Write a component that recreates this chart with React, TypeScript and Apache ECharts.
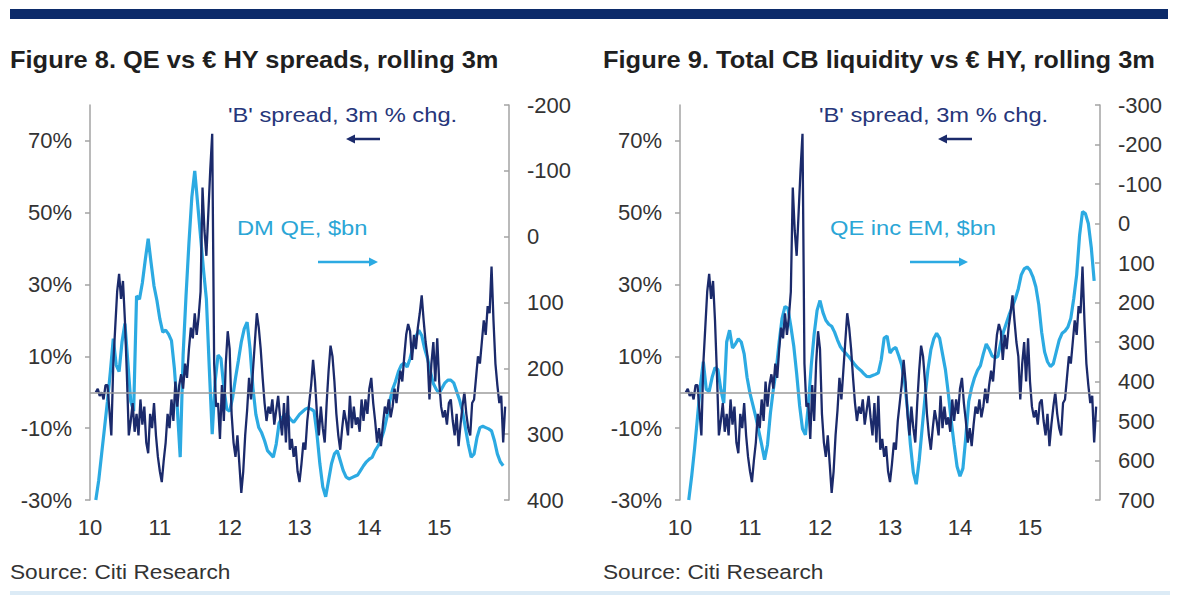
import React, { useEffect, useRef } from "react";
import * as echarts from "echarts";

// 'B' spread, 3m % change: three readings per month from Feb 2010
const SPREAD_START = 2010 + 1 / 12;
const SPREAD_STEP = 1 / 36;
const spreadChg = [
  0, 1, -1, 0, -2, 2, 2, -5, -12, 8, 18, 28,
  33, 26, 31, 20, 5, -12, -8, -3, -11, -6, -12, -2,
  -9, -4, -14, -17, -6, -10, -3, -12, -18, -22, -25, -19,
  -14, -6, -10, -2, -8, 3, -4, 2, 5, 1, 8, 4,
  12, 18, 15, 22, 16, 21, 28, 57, 45, 38, 50, 62,
  72, 8, -4, -3, -13, 2, -8, 8, 17, 12, -6, -14,
  -18, -12, -20, -28, -22, -12, -5, 4, -2, 6, 14, 22,
  18, 12, 4, -3, -8, -4, -6, -2, -9, -5, -1, -7,
  -12, -3, -14, -1, -16, -13, -18, -15, -22, -25, -20, -14,
  -16, -8, -3, 2, 9, 3, -6, -12, -4, -10, -14, -3,
  6, 13, 10, 3, -6, -12, -16, -10, -5, -8, -12, -1,
  -10, -4, -9, -7, -11, -2, -8, -2, -6, 1, 4, -3,
  -8, -14, -10, -15, -9, -4, -6, -2, -7, -4, 1, -3,
  2, 6, 3, 10, 16, 19, 17, 9, 16, 12, 18, 22,
  27, 20, 14, 10, -2, 8, 14, 3, 15, 3, -4, -7,
  -5, -9, -3, -2, -8, -12, -6, -15, -9, -4, 0, -6,
  -10, -12, -3, -2, 4, 10, 8, 14, 20, 16, 24, 22,
  35, 20, 8, 2, -3, -1, -14, -4,
];

// QE flows in $bn (right axis, inverted): two readings per month
const QE_STEP = 1 / 24;
const DM_QE_START = 2010 + 1 / 12;
const dmQe = [
  400, 370, 330, 290, 250, 205, 155, 195, 205, 160, 132, 190,
  250, 265, 90, 95, 70, 35, 3, 40, 75, 97, 125, 145,
  142, 148, 158, 200, 260, 335, 180, 90, 10, -60, -100, -50,
  0, 50, 95, 200, 300, 220, 180, 185, 230, 262, 265, 245,
  215, 188, 160, 140, 130, 170, 230, 270, 290, 298, 310, 325,
  330, 335, 315, 283, 275, 270, 272, 278, 282, 276, 270, 266,
  262, 260, 262, 265, 300, 345, 380, 395, 370, 345, 330, 325,
  340, 355, 365, 368, 366, 364, 362, 355, 348, 342, 338, 335,
  325, 318, 309, 295, 275, 250, 232, 220, 205, 195, 192, 198,
  185, 168, 152, 142, 150, 170, 185, 205, 223, 232, 238, 230,
  222, 218, 218, 222, 235, 248, 265, 290, 315, 335, 330, 305,
  290, 288, 290, 292, 295, 310, 330, 342, 348,
];

const QE_EM_START = 2010 + 1.5 / 12;
const qeIncEm = [
  700, 640, 570, 490, 410, 350, 420, 425, 390, 365, 370, 420,
  455, 300, 270, 315, 305, 292, 300, 330, 390, 430, 460, 490,
  525, 560, 598, 560, 480, 420, 370, 300, 240, 210, 215, 260,
  310, 380, 460, 520, 535, 460, 360, 280, 220, 195, 225, 245,
  255, 260, 275, 295, 312, 322, 330, 338, 348, 358, 366, 372,
  380, 387, 388, 385, 382, 378, 345, 290, 285, 328, 318, 314,
  335, 358, 400, 470, 560, 630, 660, 600, 520, 440, 370, 320,
  292, 278, 290, 330, 370, 430, 500, 560, 615, 640, 620, 540,
  450, 415, 390, 372, 360, 330, 305, 318, 335, 340, 336, 300,
  272, 250, 228, 210, 190, 165, 130, 115, 110, 118, 135, 160,
  205, 275, 325, 350, 362, 355, 325, 295, 278, 272, 262, 240,
  190, 130, 30, -30, -25, 0, 60, 145,
];

const PCT_TICKS = [-30, -10, 10, 30, 50, 70];
const YEAR_TICKS = [2010, 2011, 2012, 2013, 2014, 2015];

const FONT = "'Liberation Sans', Arial, sans-serif";
const NAVY = "#1b2a6b";
const CYAN = "#2caae2";
const AXIS_GREY = "#a3a3a3";
const LABEL = "#333333";

const toPairs = (vals: number[], start: number, step: number) =>
  vals.map((v, i) => [start + i * step, v]);

function xAxisFor(gridIndex: number) {
  return {
    type: "value",
    gridIndex,
    min: 2010,
    max: 2016,
    interval: 1,
    axisLine: { show: false, onZero: false },
    axisTick: { show: false },
    splitLine: { show: false },
    axisLabel: {
      customValues: YEAR_TICKS,
      formatter: (v: number) => (v < 2016 ? String(Math.round(v) - 2000) : ""),
      fontSize: 22,
      fontFamily: FONT,
      color: LABEL,
      margin: 16,
    },
  };
}

function pctAxis(gridIndex: number) {
  return {
    type: "value",
    gridIndex,
    position: "left",
    min: -30,
    max: 80,
    splitLine: { show: false },
    axisLine: { show: true, lineStyle: { color: AXIS_GREY, width: 1.5 } },
    axisTick: {
      show: true,
      inside: false,
      length: 5,
      customValues: PCT_TICKS,
      lineStyle: { color: AXIS_GREY, width: 1.5 },
    },
    axisLabel: {
      customValues: PCT_TICKS,
      formatter: (v: number) => v + "%",
      fontSize: 22,
      fontFamily: FONT,
      color: LABEL,
      margin: 18,
    },
  };
}

function bnAxis(gridIndex: number, min: number, max: number) {
  return {
    type: "value",
    gridIndex,
    position: "right",
    inverse: true,
    min,
    max,
    interval: 100,
    splitLine: { show: false },
    axisLine: { show: true, lineStyle: { color: AXIS_GREY, width: 1.5 } },
    axisTick: { show: true, inside: true, length: 5, lineStyle: { color: AXIS_GREY, width: 1.5 } },
    axisLabel: { fontSize: 22, fontFamily: FONT, color: LABEL, margin: 18 },
  };
}

function text(x: number, y: number, str: string, opts: any) {
  return {
    type: "text",
    x,
    y,
    scaleX: opts.scaleX ?? 1.13,
    silent: true,
    style: {
      text: str,
      fontSize: opts.fontSize,
      fontWeight: opts.fontWeight ?? "normal",
      fontFamily: FONT,
      fill: opts.fill,
      align: "left",
      verticalAlign: "middle",
    },
  };
}

function arrow(x1: number, x2: number, y: number, color: string) {
  // shaft from x1 towards x2, head pointing at x2
  const dir = x2 > x1 ? 1 : -1;
  const headLen = 9;
  return [
    {
      type: "line",
      silent: true,
      shape: { x1, y1: y, x2: x2 - dir * headLen, y2: y },
      style: { stroke: color, lineWidth: 2.5 },
    },
    {
      type: "polygon",
      silent: true,
      shape: {
        points: [
          [x2, y],
          [x2 - dir * headLen, y - 4.5],
          [x2 - dir * headLen, y + 4.5],
        ],
      },
      style: { fill: color },
    },
  ];
}

export default function App() {
  const ref = useRef<HTMLDivElement>(null);

  useEffect(() => {
    if (!ref.current) return;
    const chart = echarts.init(ref.current, undefined, { renderer: "svg" });

    const spreadPairs = toPairs(spreadChg, SPREAD_START, SPREAD_STEP);
    const zeroLine = {
      silent: true,
      symbol: "none",
      label: { show: false },
      lineStyle: { color: "#9d9d9d", width: 1.5, type: "solid" },
      data: [{ yAxis: 0 }],
    };

    chart.setOption({
      animation: false,
      backgroundColor: "#ffffff",
      grid: [
        { left: 90, top: 105, width: 419, height: 395 },
        { left: 680, top: 105, width: 420, height: 395 },
      ],
      xAxis: [xAxisFor(0), xAxisFor(1)],
      yAxis: [pctAxis(0), bnAxis(0, -200, 400), pctAxis(1), bnAxis(1, -300, 700)],
      series: [
        {
          name: "DM QE, $bn",
          type: "line",
          xAxisIndex: 0,
          yAxisIndex: 1,
          data: toPairs(dmQe, DM_QE_START, QE_STEP),
          showSymbol: false,
          symbol: "none",
          lineStyle: { color: CYAN, width: 3.2 },
          z: 2,
        },
        {
          name: "'B' spread, 3m % chg.",
          type: "line",
          xAxisIndex: 0,
          yAxisIndex: 0,
          data: spreadPairs,
          showSymbol: false,
          symbol: "none",
          lineStyle: { color: NAVY, width: 2.3 },
          markLine: zeroLine,
          z: 3,
        },
        {
          name: "QE inc EM, $bn",
          type: "line",
          xAxisIndex: 1,
          yAxisIndex: 3,
          data: toPairs(qeIncEm, QE_EM_START, QE_STEP),
          showSymbol: false,
          symbol: "none",
          lineStyle: { color: CYAN, width: 3.2 },
          z: 2,
        },
        {
          name: "'B' spread, 3m % chg. ",
          type: "line",
          xAxisIndex: 1,
          yAxisIndex: 2,
          data: spreadPairs,
          showSymbol: false,
          symbol: "none",
          lineStyle: { color: NAVY, width: 2.3 },
          markLine: zeroLine,
          z: 3,
        },
      ],
      graphic: [
        { type: "rect", silent: true, shape: { x: 10, y: 9, width: 1158, height: 10 }, style: { fill: "#0c2b6a" } },
        { type: "rect", silent: true, shape: { x: 10, y: 591, width: 1160, height: 4 }, style: { fill: "#dcebf6" } },
        text(10, 60, "Figure 8. QE vs € HY spreads, rolling 3m", { fontSize: 24, fontWeight: "bold", fill: "#1f1f1f", scaleX: 1.06 }),
        text(603, 60, "Figure 9. Total CB liquidity vs € HY, rolling 3m", { fontSize: 24, fontWeight: "bold", fill: "#1f1f1f", scaleX: 1.06 }),
        text(228, 115, "'B' spread, 3m % chg.", { fontSize: 21, fill: "#26367a" }),
        text(819, 115, "'B' spread, 3m % chg.", { fontSize: 21, fill: "#26367a" }),
        text(237, 228, "DM QE, $bn", { fontSize: 21, fill: "#2ba6d6" }),
        text(830, 228, "QE inc EM, $bn", { fontSize: 21, fill: "#2ba6d6" }),
        ...arrow(380, 346, 139, NAVY),
        ...arrow(972, 938, 139, NAVY),
        ...arrow(318, 378, 262, CYAN),
        ...arrow(910, 968, 262, CYAN),
        text(10, 572, "Source: Citi Research", { fontSize: 21, fill: "#333333", scaleX: 1.08 }),
        text(603, 572, "Source: Citi Research", { fontSize: 21, fill: "#333333", scaleX: 1.08 }),
      ],
    });

    return () => chart.dispose();
  }, []);

  return (
    <div
      ref={ref}
      style={{ position: "absolute", left: 0, top: 0, width: 1177, height: 596, background: "#ffffff" }}
    />
  );
}
